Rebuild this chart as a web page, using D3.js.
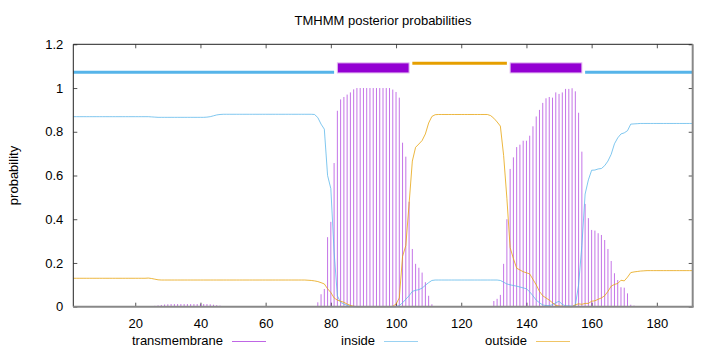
<!DOCTYPE html>
<html lang="en">
<head>
<meta charset="UTF-8"/>
<title>TMHMM posterior probabilities</title>
<script src="https://d3js.org/d3.v7.min.js"></script>
<style>
    body { margin: 0; background: #fff; }
    svg text { font-family: "Liberation Sans", Arial, sans-serif; font-size: 13px; fill: #000; }
</style>
</head>
<body>
<script>
    // posterior probabilities per residue (residue 1 .. 191)
    var tmProb = [
        0,0,0,0,0,0,0,0,0,0,
        0,0,0,0,0,0,0,0,0,0,
        0,0,0,0,0,0.004,0.006,0.008,0.010,0.011,
        0.012,0.012,0.012,0.012,0.012,0.012,0.012,0.012,0.012,0.012,
        0.012,0.012,0.011,0.009,0.007,0.005,0.003,0.002,0,0,
        0,0,0,0,0,0,0,0,0,0,
        0,0,0,0,0,0,0,0,0,0,
        0,0,0,0,0.003,0.020,0.057,0.081,0.318,0.388,
        0.657,0.896,0.948,0.959,0.970,0.980,0.994,1,1,1,
        1,1,1,1,1,1,1,1,0.993,0.982,
        0.956,0.750,0.686,0.480,0.264,0.196,0.178,0.156,0.112,0.050,
        0.011,0.003,0,0,0,0,0,0,0,0,
        0,0,0,0,0,0,0,0,0,0.026,
        0.036,0.054,0.196,0.400,0.630,0.683,0.730,0.741,0.759,0.759,
        0.782,0.825,0.870,0.900,0.932,0.953,0.959,0.956,0.980,0.973,
        0.980,0.996,0.996,0.999,0.985,0.887,0.709,0.470,0.405,0.351,
        0.348,0.336,0.328,0.305,0.264,0.209,0.153,0.122,0.089,0.087,
        0.061,0.009,0.005,0.002,0,0,0,0,0,0,
        0,0,0,0,0,0,0,0,0,0,
        0
    ];
    var insideProb = [
        0.869,0.869,0.869,0.869,0.869,0.869,0.869,0.869,0.869,0.869,
        0.869,0.869,0.869,0.869,0.869,0.869,0.869,0.869,0.869,0.869,
        0.869,0.869,0.869,0.869,0.868,0.867,0.866,0.866,0.866,0.866,
        0.866,0.866,0.866,0.866,0.866,0.866,0.866,0.866,0.866,0.866,
        0.866,0.867,0.869,0.873,0.877,0.879,0.880,0.880,0.880,0.880,
        0.880,0.880,0.880,0.880,0.880,0.880,0.880,0.880,0.880,0.880,
        0.880,0.880,0.880,0.880,0.880,0.880,0.880,0.880,0.880,0.880,
        0.880,0.880,0.880,0.880,0.879,0.865,0.835,0.812,0.600,0.540,
        0.250,0.050,0.020,0.012,0.006,0.002,0,0,0,0,
        0,0,0,0,0,0,0,0,0,0,
        0.005,0.018,0.034,0.050,0.070,0.075,0.078,0.085,0.098,0.110,
        0.120,0.122,0.122,0.122,0.122,0.122,0.122,0.122,0.122,0.122,
        0.122,0.122,0.122,0.122,0.122,0.122,0.122,0.122,0.122,0.122,
        0.122,0.120,0.112,0.104,0.100,0.097,0.094,0.090,0.086,0.082,
        0.068,0.050,0.030,0.018,0.008,0.005,0.005,0.009,0.018,0.025,
        0.010,0.004,0.004,0.002,0.006,0.100,0.280,0.515,0.580,0.624,
        0.625,0.630,0.632,0.645,0.666,0.697,0.745,0.772,0.790,0.795,
        0.805,0.835,0.836,0.837,0.838,0.838,0.838,0.838,0.838,0.838,
        0.838,0.838,0.838,0.838,0.838,0.838,0.838,0.838,0.838,0.838,
        0.838
    ];
    var outsideProb = [
        0.130,0.130,0.130,0.130,0.130,0.130,0.130,0.130,0.130,0.130,
        0.130,0.130,0.130,0.130,0.130,0.130,0.130,0.130,0.130,0.130,
        0.130,0.130,0.130,0.131,0.129,0.126,0.123,0.122,0.122,0.122,
        0.122,0.122,0.122,0.122,0.122,0.122,0.122,0.122,0.122,0.122,
        0.122,0.122,0.122,0.122,0.122,0.122,0.122,0.122,0.122,0.122,
        0.122,0.122,0.122,0.122,0.122,0.122,0.122,0.122,0.122,0.122,
        0.122,0.122,0.122,0.122,0.122,0.122,0.122,0.122,0.122,0.122,
        0.122,0.122,0.121,0.120,0.118,0.115,0.110,0.104,0.082,0.065,
        0.040,0.030,0.025,0.020,0.012,0.006,0.002,0,0,0,
        0,0,0,0,0,0,0,0,0.002,0.012,
        0.040,0.230,0.280,0.470,0.666,0.729,0.744,0.760,0.790,0.840,
        0.870,0.878,0.879,0.879,0.879,0.879,0.879,0.879,0.879,0.879,
        0.879,0.879,0.879,0.879,0.879,0.879,0.879,0.879,0.874,0.862,
        0.845,0.826,0.692,0.496,0.270,0.220,0.176,0.168,0.160,0.155,
        0.150,0.125,0.100,0.070,0.050,0.040,0.030,0.018,0.006,0.003,
        0.002,0,0,0,0.009,0.013,0.011,0.015,0.015,0.025,
        0.027,0.034,0.040,0.050,0.070,0.094,0.102,0.106,0.121,0.118,
        0.135,0.156,0.159,0.161,0.163,0.164,0.165,0.165,0.165,0.165,
        0.165,0.165,0.165,0.165,0.165,0.165,0.165,0.165,0.165,0.165,
        0.165
    ];

    // predicted topology segments
    var topoStart = [1, 82, 105, 135, 158];
    var topoEnd = [81, 104, 134, 157, 191];
    var topoType = ["inside", "TMhelix", "outside", "TMhelix", "inside"];

    var xTicks = [20, 40, 60, 80, 100, 120, 140, 160, 180];
    var yTicks = [0, 0.2, 0.4, 0.6, 0.8, 1, 1.2];
    var legendNames = ["transmembrane", "inside", "outside"];

    var w = 720, h = 352;
    var plotL = 73.3, plotR = 692.7, plotT = 44.3, plotB = 306.7;
    var tmColor = "#9400d3", inColor = "#56b4e9", outColor = "#e69f00";

    var residues = d3.range(1, tmProb.length + 1);

    var xScale = d3.scaleLinear().domain([1, 191]).range([plotL, plotR]);
    var yScale = d3.scaleLinear().domain([0, 1.2]).range([plotB, plotT]);

    var svg = d3.select("body").append("svg")
        .attr("width", w)
        .attr("height", h);

    // title
    svg.append("text")
        .attr("x", 383)
        .attr("y", 25)
        .attr("text-anchor", "middle")
        .text("TMHMM posterior probabilities");

    // y label
    svg.append("text")
        .attr("text-anchor", "middle")
        .attr("transform", "translate(18," + ((plotT + plotB) / 2) + ") rotate(-90)")
        .text("probability");

    // axes, ticks pointing inwards like gnuplot
    svg.append("g")
        .attr("transform", "translate(0," + plotB + ")")
        .call(d3.axisBottom(xScale).tickValues(xTicks).tickSize(-4).tickPadding(12));
    svg.append("g")
        .attr("transform", "translate(0," + plotT + ")")
        .call(d3.axisTop(xScale).tickValues(xTicks).tickSize(-4).tickFormat(""));
    svg.append("g")
        .attr("transform", "translate(" + plotL + ",0)")
        .call(d3.axisLeft(yScale).tickValues(yTicks).tickSize(-4).tickPadding(10).tickFormat(d3.format("~g")));
    svg.append("g")
        .attr("transform", "translate(" + plotR + ",0)")
        .call(d3.axisRight(yScale).tickValues(yTicks).tickSize(-4).tickFormat(""));

    svg.selectAll(".domain").remove();
    svg.selectAll(".tick line").attr("stroke", "#555");
    svg.selectAll(".tick text")
        .style("font-family", "'Liberation Sans', Arial, sans-serif")
        .style("font-size", "13px")
        .attr("fill", "#000");

    // impulses for transmembrane probability
    svg.append("g").selectAll("line")
        .data(residues.filter(function(r) { return tmProb[r - 1] > 0; }))
        .enter()
        .append("line")
        .attr("x1", function(r) { return xScale(r); })
        .attr("x2", function(r) { return xScale(r); })
        .attr("y1", yScale(0))
        .attr("y2", function(r) { return yScale(tmProb[r - 1]); })
        .attr("stroke", tmColor)
        .attr("stroke-opacity", 0.55)
        .attr("stroke-width", 1);

    var line = d3.line()
        .x(function(d) { return xScale(d[0]); })
        .y(function(d) { return yScale(d[1]); });

    svg.append("path")
        .datum(residues.map(function(r) { return [r, insideProb[r - 1]]; }))
        .attr("d", line)
        .attr("fill", "none")
        .attr("stroke", inColor)
        .attr("stroke-opacity", 0.75)
        .attr("stroke-width", 1);

    svg.append("path")
        .datum(residues.map(function(r) { return [r, outsideProb[r - 1]]; }))
        .attr("d", line)
        .attr("fill", "none")
        .attr("stroke", outColor)
        .attr("stroke-opacity", 0.75)
        .attr("stroke-width", 1);

    // topology bar on top
    topoType.forEach(function(t, i) {
        var x1 = xScale(topoStart[i]), x2 = xScale(topoEnd[i]);
        if (t === "TMhelix") {
            svg.append("rect")
                .attr("x", x1)
                .attr("y", yScale(1.115))
                .attr("width", x2 - x1)
                .attr("height", yScale(1.069) - yScale(1.115))
                .attr("fill", tmColor)
                .attr("stroke", "#e2b8f0")
                .attr("stroke-width", 1);
        } else {
            var yy = t === "inside" ? 1.072 : 1.113;
            svg.append("line")
                .attr("x1", x1).attr("x2", x2)
                .attr("y1", yScale(yy)).attr("y2", yScale(yy))
                .attr("stroke", t === "inside" ? inColor : outColor)
                .attr("stroke-width", 3);
        }
    });

    // border: left/top dark, bottom/right grey
    svg.append("line").attr("x1", plotL).attr("x2", plotL).attr("y1", plotT).attr("y2", plotB)
        .attr("stroke", "#222").attr("stroke-width", 1);
    svg.append("line").attr("x1", plotL).attr("x2", plotR).attr("y1", plotT).attr("y2", plotT)
        .attr("stroke", "#222").attr("stroke-width", 1);
    svg.append("line").attr("x1", plotL).attr("x2", plotR + 1).attr("y1", plotB).attr("y2", plotB)
        .attr("stroke", "#888").attr("stroke-width", 2);
    svg.append("line").attr("x1", plotR).attr("x2", plotR).attr("y1", plotT).attr("y2", plotB)
        .attr("stroke", "#888").attr("stroke-width", 2);

    // legend
    var legendRight = [223, 375, 527];
    var legendColors = [tmColor, inColor, outColor];
    legendNames.forEach(function(name, i) {
        svg.append("text")
            .attr("x", legendRight[i])
            .attr("y", 345)
            .attr("text-anchor", "end")
            .text(name);
        svg.append("line")
            .attr("x1", legendRight[i] + 9)
            .attr("x2", legendRight[i] + 43)
            .attr("y1", 341.5).attr("y2", 341.5)
            .attr("stroke", legendColors[i])
            .attr("stroke-opacity", 0.6)
            .attr("stroke-width", 1);
    });
</script>
</body>
</html>
